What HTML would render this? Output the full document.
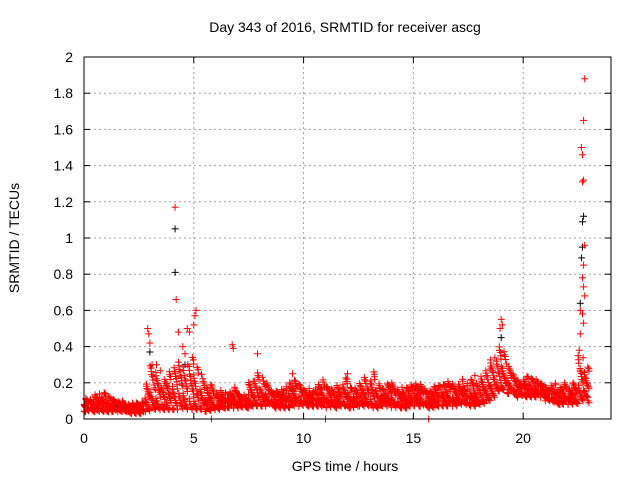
<!DOCTYPE html>
<html><head><meta charset="utf-8"><style>
body{margin:0;background:#fff;}
svg{display:block;font-family:"Liberation Sans",sans-serif;}
</style></head><body>
<svg id="c" width="640" height="480">
<text x="345" y="32" text-anchor="middle" font-size="14">Day 343 of 2016, SRMTID for receiver ascg</text>
<text x="345" y="471" text-anchor="middle" font-size="14">GPS time / hours</text>
<text transform="translate(19,238) rotate(-90)" text-anchor="middle" font-size="14">SRMTID / TECUs</text>
<g id="grid"></g>
<g id="ticks"></g>
<g id="marks"></g>
<rect x="84" y="57" width="527" height="362" fill="none" stroke="#000" stroke-width="1"/>
</svg>
<script>
const xTicks=[0,5,10,15,20];
const yTicks=[0,0.2,0.4,0.6,0.8,1,1.2,1.4,1.6,1.8,2];
const yTickLabels=["0","0.2","0.4","0.6","0.8","1","1.2","1.4","1.6","1.8","2"];
// band of red points, every 0.25 h from 0
const bandLo=[0.04,0.04,0.04,0.04,0.04,0.04,0.04,0.04,0.03,0.03,0.03,0.04,0.05,0.05,0.05,0.05,0.05,0.05,0.05,0.05,0.05,0.05,0.04,0.05,0.05,0.06,0.06,0.06,0.06,0.06,0.07,0.07,0.07,0.07,0.06,0.06,0.06,0.06,0.07,0.07,0.07,0.07,0.07,0.07,0.06,0.06,0.07,0.07,0.06,0.06,0.07,0.07,0.06,0.06,0.07,0.07,0.06,0.06,0.06,0.07,0.07,0.07,0.06,0.06,0.07,0.07,0.07,0.07,0.08,0.08,0.07,0.07,0.08,0.1,0.12,0.15,0.16,0.14,0.12,0.13,0.12,0.12,0.12,0.12,0.1,0.09,0.08,0.08,0.08,0.08,0.1,0.12];
const bandHi=[0.12,0.11,0.14,0.15,0.13,0.11,0.1,0.1,0.09,0.09,0.1,0.2,0.3,0.28,0.22,0.27,0.3,0.32,0.3,0.35,0.3,0.25,0.18,0.2,0.16,0.15,0.15,0.18,0.14,0.14,0.22,0.26,0.24,0.2,0.16,0.17,0.18,0.2,0.22,0.2,0.17,0.16,0.2,0.22,0.18,0.17,0.2,0.23,0.18,0.17,0.2,0.24,0.25,0.2,0.17,0.2,0.2,0.18,0.18,0.19,0.2,0.2,0.17,0.18,0.19,0.2,0.21,0.2,0.22,0.2,0.22,0.21,0.24,0.28,0.35,0.4,0.38,0.3,0.25,0.22,0.24,0.23,0.22,0.2,0.18,0.2,0.18,0.2,0.17,0.2,0.35,0.3];
const spikeT=[2.9,2.95,3.0,3.3,4.15,4.2,4.3,4.7,4.8,5.1,5.05,5.0,6.75,6.8,7.9,9.5,5.8,11.0,15.7,19.0,19.05,18.95,22.8,22.75,22.65,22.7,22.75,22.7,22.8,22.75,22.7,22.75,22.8,22.6,22.7,22.75,22.6,22.55,22.5,22.6,4.5,4.6,3.1,12.0,13.2,17.8,22.95,23.0];
const spikeV=[0.5,0.47,0.42,0.3,1.17,0.66,0.48,0.5,0.48,0.6,0.57,0.52,0.41,0.39,0.36,0.25,0.0,0.0,0.0,0.55,0.52,0.5,1.88,1.65,1.5,1.46,1.32,1.31,0.96,0.85,0.78,0.73,0.68,0.6,0.58,0.53,0.47,0.38,0.35,0.27,0.4,0.36,0.3,0.25,0.26,0.24,0.1,0.09];
const blackT=[4.15,4.15,22.75,22.7,22.65,22.7,3.0,22.6,4.6,19.0,1.5,8.2,14.0,20.5];
const blackV=[1.05,0.81,1.12,1.09,0.89,0.95,0.37,0.64,0.3,0.45,0.06,0.12,0.1,0.15];
const X=t=>84+t*527/24, Y=v=>419-v*362/2;
const NS='http://www.w3.org/2000/svg';
const grid=document.getElementById('grid'),ticks=document.getElementById('ticks'),marks=document.getElementById('marks');
function mk(tag,a,parent){const e=document.createElementNS(NS,tag);for(const k in a)e.setAttribute(k,a[k]);parent.appendChild(e);return e;}
xTicks.forEach(t=>{const x=X(t);
 if(t>0){const g=mk('line',{x1:x,x2:x,y1:57,y2:419,stroke:'#a0a0a0','stroke-dasharray':'2,3'},grid);
 
 }
 mk('line',{x1:x,x2:x,y1:419,y2:413,stroke:'#000'},ticks);mk('line',{x1:x,x2:x,y1:57,y2:63,stroke:'#000'},ticks);
 const l=mk('text',{x:x,y:443,'text-anchor':'middle','font-size':14},ticks);l.textContent=t;
 
 });
yTicks.forEach((v,i)=>{const y=Y(v);
 if(i>0&&i<yTicks.length-1){const g=mk('line',{x1:84,x2:611,y1:y,y2:y,stroke:'#a0a0a0','stroke-dasharray':'2,3'},grid);
 
 }
 mk('line',{x1:84,x2:90,y1:y,y2:y,stroke:'#000'},ticks);mk('line',{x1:611,x2:605,y1:y,y2:y,stroke:'#000'},ticks);
 const l=mk('text',{x:73,y:y+5,'text-anchor':'end','font-size':14},ticks);l.textContent=yTickLabels[i];
 
 });
function cross(x,y){return `M${(x-3.5).toFixed(1)} ${y.toFixed(1)}h7M${x.toFixed(1)} ${(y-3.5).toFixed(1)}v7`;}
let red='',blk='';
const n=20;
// deterministic low-discrepancy placement within each band cell
bandLo.forEach((lo,i)=>{const hi=bandHi[i];for(let k=0;k<n;k++){const j=i*n+k;const f=(j*0.6180339887)%1;const g=(j*0.7548776662+0.3)%1;const v=lo+(hi-lo)*Math.pow(f,1.4);const t=i*0.25+g*0.25;red+=cross(X(t),Y(v));}});
spikeT.forEach((t,i)=>{red+=cross(X(t),Y(spikeV[i]));});
blackT.forEach((t,i)=>{blk+=cross(X(t),Y(blackV[i]));});
const pb=mk('path',{d:blk,stroke:'#000','stroke-width':1,fill:'none'},marks);


const pr=mk('path',{d:red,stroke:'#ff0000','stroke-width':1,fill:'none'},marks);


</script>
</body></html>
